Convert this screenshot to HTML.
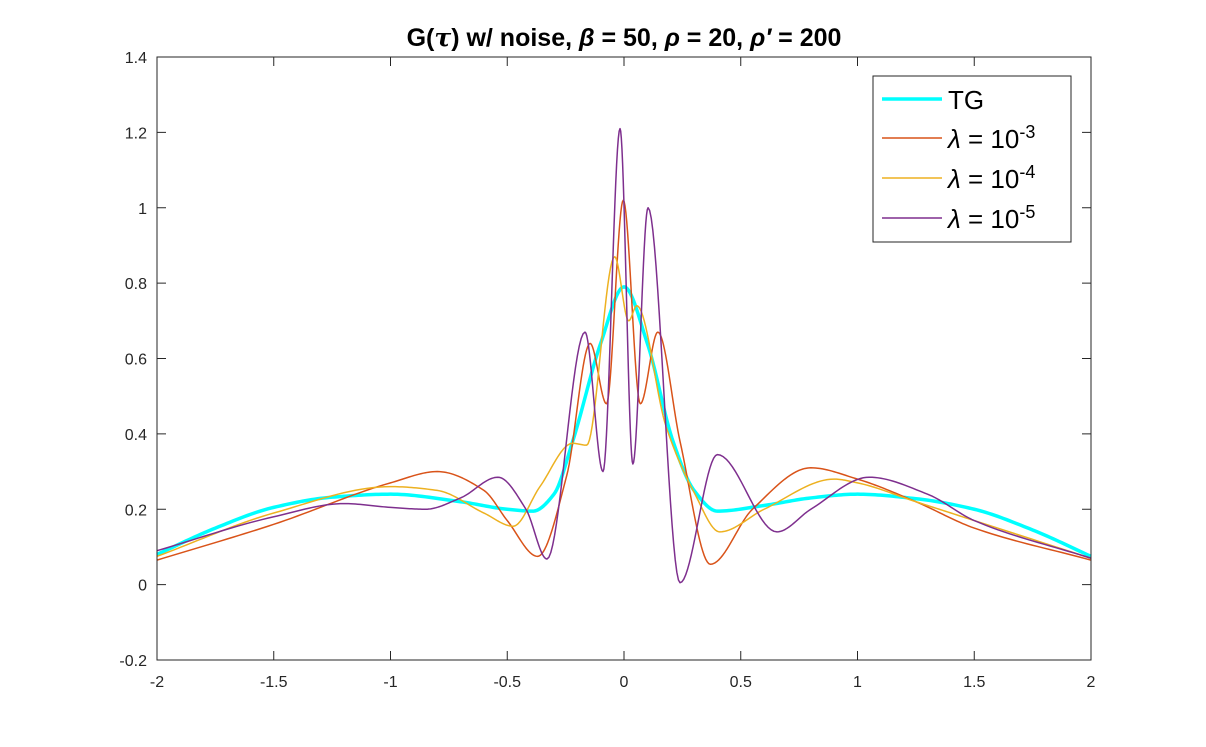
<!DOCTYPE html>
<html><head><meta charset="utf-8"><style>
body{margin:0;background:#fff;}
svg text{font-family:"Liberation Sans",sans-serif;}
</style></head><body>
<svg id="chart" width="1206" height="742" xmlns="http://www.w3.org/2000/svg">
<rect width="1206" height="742" fill="#fff"/>
<text x="624" y="46" text-anchor="middle" font-size="25" font-weight="bold" fill="#000">G(<tspan font-style="italic" font-family="DejaVu Serif, serif">τ</tspan>) w/ noise, <tspan font-style="italic">β</tspan> = 50, <tspan font-style="italic">ρ</tspan> = 20, <tspan font-style="italic">ρ′</tspan> = 200</text>
<g id="plot"></g>
<g id="axes"></g>
<g>
<rect x="873" y="76" width="198" height="166" fill="#fff" stroke="#262626" stroke-width="1"/>
<line x1="882" y1="99" x2="942" y2="99" stroke="#00FFFF" stroke-width="3.5"/>
<text x="948" y="109" font-size="26" fill="#000">TG</text>
<line x1="882" y1="138" x2="942" y2="138" stroke="#D95319" stroke-width="1.5"/>
<text x="948" y="148" font-size="26" fill="#000"><tspan font-style="italic">λ</tspan> = 10<tspan dy="-10" font-size="18">-3</tspan></text>
<line x1="882" y1="178" x2="942" y2="178" stroke="#EDB120" stroke-width="1.5"/>
<text x="948" y="188" font-size="26" fill="#000"><tspan font-style="italic">λ</tspan> = 10<tspan dy="-10" font-size="18">-4</tspan></text>
<line x1="882" y1="218" x2="942" y2="218" stroke="#7E2F8E" stroke-width="1.5"/>
<text x="948" y="228" font-size="26" fill="#000"><tspan font-style="italic">λ</tspan> = 10<tspan dy="-10" font-size="18">-5</tspan></text>
</g>
</svg>
<script>
const xTicks=[-2,-1.5,-1,-0.5,0,0.5,1,1.5,2];
const xTickLabels=["-2","-1.5","-1","-0.5","0","0.5","1","1.5","2"];
const yTicks=[-0.2,0,0.2,0.4,0.6,0.8,1,1.2,1.4];
const yTickLabels=["-0.2","0","0.2","0.4","0.6","0.8","1","1.2","1.4"];
const tgX=[-2,-1.75,-1.5,-1.25,-1,-0.7,-0.5,-0.39,-0.3,-0.22,-0.1,0,0.1,0.21,0.3,0.4,0.6,0.8,1,1.25,1.5,1.75,2];
const tgY=[0.08,0.15,0.205,0.232,0.24,0.22,0.2,0.195,0.24,0.38,0.64,0.79,0.64,0.38,0.25,0.195,0.21,0.23,0.24,0.228,0.2,0.145,0.075];
const l3X=[-2,-1.5,-1,-0.8,-0.6,-0.5,-0.37,-0.245,-0.145,-0.075,-0.003,0.07,0.145,0.24,0.37,0.55,0.8,1,1.25,1.5,2];
const l3Y=[0.065,0.16,0.27,0.30,0.25,0.17,0.075,0.29,0.64,0.48,1.02,0.48,0.67,0.38,0.054,0.2,0.31,0.28,0.22,0.15,0.065];
const l4X=[-2,-1.5,-1,-0.8,-0.6,-0.475,-0.36,-0.22,-0.16,-0.04,0.02,0.055,0.18,0.3,0.41,0.6,0.9,1,1.25,1.5,2];
const l4Y=[0.075,0.19,0.26,0.25,0.19,0.155,0.26,0.375,0.37,0.87,0.70,0.74,0.42,0.245,0.14,0.2,0.28,0.27,0.22,0.17,0.07];
const l5X=[-2,-1.5,-1.2,-1,-0.85,-0.7,-0.54,-0.42,-0.33,-0.167,-0.09,-0.017,0.038,0.103,0.24,0.40,0.655,0.8,1.05,1.3,1.5,2];
const l5Y=[0.09,0.18,0.215,0.205,0.2,0.23,0.285,0.2,0.068,0.67,0.30,1.21,0.32,1.0,0.005,0.345,0.14,0.2,0.285,0.24,0.17,0.07];

const L=157,R=1091,T=57,B=660,xmin=-2,xmax=2,ymin=-0.2,ymax=1.4;
const sx=x=>L+(x-xmin)/(xmax-xmin)*(R-L);
const sy=y=>B-(y-ymin)/(ymax-ymin)*(B-T);
const NS="http://www.w3.org/2000/svg";
function mk(tag,attrs,parent){const e=document.createElementNS(NS,tag);for(const k in attrs)e.setAttribute(k,attrs[k]);parent.appendChild(e);return e;}

function monotone(xs,ys){
  const n=xs.length,d=[],m=[];
  for(let i=0;i<n-1;i++)d.push((ys[i+1]-ys[i])/(xs[i+1]-xs[i]));
  m[0]=d[0];m[n-1]=d[n-2];
  for(let i=1;i<n-1;i++){if(d[i-1]*d[i]<=0)m[i]=0;else{const w1=2*(xs[i+1]-xs[i])+(xs[i]-xs[i-1]),w2=(xs[i+1]-xs[i])+2*(xs[i]-xs[i-1]);m[i]=(w1+w2)/(w1/d[i-1]+w2/d[i]);}}
  let p="";
  for(let i=0;i<n-1;i++){
    const h=xs[i+1]-xs[i];
    for(let k=0;k<=20;k++){
      if(i>0&&k===0)continue;
      const t=k/20,t2=t*t,t3=t2*t;
      const y=(2*t3-3*t2+1)*ys[i]+(t3-2*t2+t)*h*m[i]+(-2*t3+3*t2)*ys[i+1]+(t3-t2)*h*m[i+1];
      const x=xs[i]+t*h;
      p+=(p?"L":"M")+sx(x).toFixed(2)+","+sy(y).toFixed(2);
    }
  }
  return p;
}
const plot=document.getElementById('plot');
const series=[[tgX,tgY,"#00FFFF",3.5,"series-tg"],[l3X,l3Y,"#D95319",1.5,"series-lambda-1e-3"],[l4X,l4Y,"#EDB120",1.5,"series-lambda-1e-4"],[l5X,l5Y,"#7E2F8E",1.5,"series-lambda-1e-5"]];
series.forEach(s=>{
  const p=mk('path',{d:monotone(s[0],s[1]),fill:"none",stroke:s[2],"stroke-width":s[3],"stroke-linejoin":"round"},plot);
  
  
});
const ax=document.getElementById('axes');
const box=mk('rect',{x:L,y:T,width:R-L,height:B-T,fill:"none",stroke:"#262626","stroke-width":1},ax);


xTicks.forEach((v,i)=>{
  const x=sx(v);
  mk('line',{x1:x,y1:B,x2:x,y2:B-9,stroke:"#262626"},ax);
  mk('line',{x1:x,y1:T,x2:x,y2:T+9,stroke:"#262626"},ax);
  const t=mk('text',{x:x,y:B+27,"text-anchor":"middle","font-size":16,fill:"#262626"},ax);
  t.textContent=xTickLabels[i];
  
  
});
yTicks.forEach((v,i)=>{
  const y=sy(v);
  mk('line',{x1:L,y1:y,x2:L+9,y2:y,stroke:"#262626"},ax);
  mk('line',{x1:R,y1:y,x2:R-9,y2:y,stroke:"#262626"},ax);
  const t=mk('text',{x:L-10,y:y+6,"text-anchor":"end","font-size":16,fill:"#262626"},ax);
  t.textContent=yTickLabels[i];
  
  
});
</script>
</body></html>
